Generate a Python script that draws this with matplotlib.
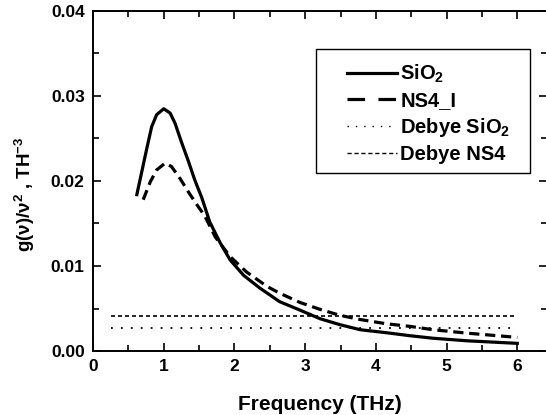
import matplotlib
matplotlib.use('Agg')
import matplotlib.pyplot as plt
from matplotlib.lines import Line2D
from matplotlib.patches import Rectangle
from matplotlib.ticker import MultipleLocator, FormatStrFormatter

# values
freq_sio2 = [0.62, 0.69, 0.76, 0.83, 0.90, 1.00, 1.09, 1.16, 1.25, 1.35, 1.44, 1.54, 1.65, 1.80, 1.94,
             2.13, 2.36, 2.64, 2.93, 3.21, 3.49, 3.78, 4.15, 4.48, 4.81, 5.29, 6.0]
g_sio2 = [0.0184, 0.0211, 0.0238, 0.0264, 0.0278, 0.0285, 0.0280, 0.0268, 0.0246, 0.0223, 0.0201, 0.0180,
          0.0152, 0.0127, 0.0107, 0.0089, 0.0074, 0.0058, 0.0048, 0.0038, 0.0031, 0.0025, 0.00215, 0.0018,
          0.0015, 0.0012, 0.0009]
freq_ns4 = [0.71, 0.81, 0.90, 1.02, 1.11, 1.23, 1.35, 1.47, 1.58, 1.73, 1.94, 2.17, 2.46, 2.64, 2.93,
            3.21, 3.49, 3.78, 4.15, 4.48, 4.81, 5.29, 6.0]
g_ns4 = [0.0178, 0.0199, 0.0213, 0.0221, 0.0217, 0.0203, 0.0187, 0.0172, 0.0159, 0.0134, 0.0111, 0.0093,
         0.0076, 0.0068, 0.0057, 0.0049, 0.0042, 0.0037, 0.0032, 0.0029, 0.0025, 0.0021, 0.0016]
debye_x = [0.25, 6.0]
debye_sio2 = 0.0027
debye_ns4 = 0.0041

plt.rcParams['font.family'] = 'Liberation Sans'
plt.rcParams['font.weight'] = 'bold'
plt.rcParams['mathtext.fontset'] = 'custom'
plt.rcParams['mathtext.bf'] = 'Liberation Sans:bold'
plt.rcParams['mathtext.rm'] = 'Liberation Sans:bold'
plt.rcParams['mathtext.default'] = 'bf'

fig = plt.figure(figsize=(5.46, 4.15), dpi=100)
ax = fig.add_axes([93/546, 64/415, 454/546, 340/415])

ax.plot(freq_sio2, g_sio2, '-', color='black', lw=2.3)
ax.plot(freq_ns4, g_ns4, color='black', lw=2.3, dashes=(3.2, 1.8))
ax.plot(debye_x, [debye_sio2]*2, color='black', lw=1.3, dashes=(1, 4.5))
ax.plot(debye_x, [debye_ns4]*2, color='black', lw=1.2, dashes=(2.4, 1.8))

ax.set_xlim(0, 6.42)
ax.set_ylim(0, 0.04)
ax.xaxis.set_major_locator(MultipleLocator(1))
ax.xaxis.set_minor_locator(MultipleLocator(0.5))
ax.yaxis.set_major_locator(MultipleLocator(0.01))
ax.yaxis.set_minor_locator(MultipleLocator(0.005))
ax.yaxis.set_major_formatter(FormatStrFormatter('%.2f'))
ax.tick_params(which='both', direction='in', top=True, right=True, labelsize=12.5, width=1.2)
ax.tick_params(which='major', length=6, pad=6)
ax.tick_params(which='minor', length=4)
for s in ax.spines.values():
    s.set_linewidth(1.4)

ax.set_xlabel('Frequency (THz)', fontsize=15, fontweight='bold', labelpad=15)
ax.set_ylabel('g(ν)/ν$^2$ , TH$^{-3}$', fontsize=13.5, fontweight='bold')
ax.yaxis.set_label_coords(-0.123, 0.462)

# legend box drawn separately so its padding can match the reference
ax.add_patch(Rectangle((0.491, 0.5235), 0.4716, 0.3645, transform=ax.transAxes,
                       fill=False, edgecolor='black', lw=1.0, zorder=4))
handles = [Line2D([], [], color='black', lw=2.3),
           Line2D([], [], color='black', lw=2.3, dashes=(5.5, 4.2)),
           Line2D([], [], color='black', lw=1.0, dashes=(1, 5)),
           Line2D([], [], color='black', lw=1.0, dashes=(3, 2))]
labels = ['SiO$_2$', 'NS4_I', 'Debye SiO$_2$', 'Debye NS4']
leg = ax.legend(handles, labels, loc='upper left', bbox_to_anchor=((347-93)/454, (351-63)/340),
                fontsize=14.5, frameon=False, handlelength=2.5, handletextpad=0.15,
                labelspacing=0.29, borderpad=0, borderaxespad=0)

fig.savefig('out.png', dpi=100)
